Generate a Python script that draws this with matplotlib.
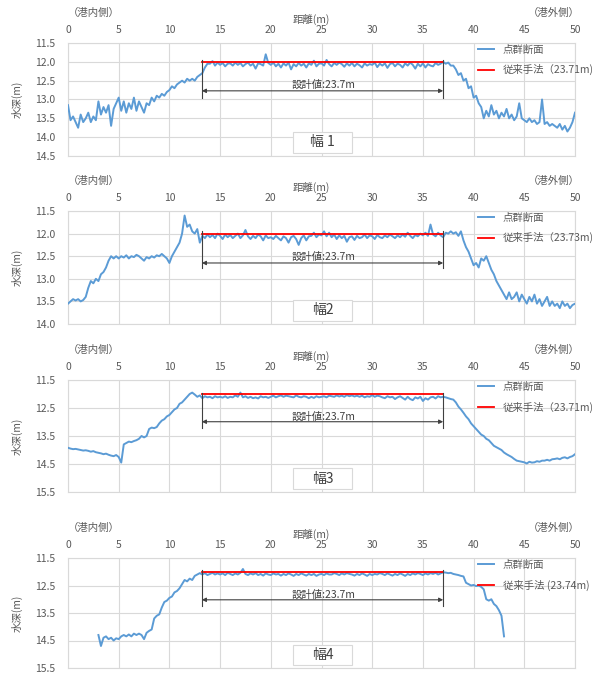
import numpy as np
import matplotlib
matplotlib.use("Agg")
import matplotlib.pyplot as plt
from matplotlib.patches import Rectangle

plt.rcParams['font.family'] = ['Noto Sans CJK JP', 'DejaVu Sans']

# 点群断面 (0.25m間隔で読み取り)
depth_1 = [
    13.15, 13.55, 13.45, 13.60, 13.75, 13.40, 13.60, 13.50,
    13.35, 13.60, 13.45, 13.55, 13.05, 13.40, 13.20, 13.35,
    13.15, 13.70, 13.25, 13.10, 12.95, 13.30, 13.05, 13.35,
    13.10, 13.25, 12.95, 13.30, 13.05, 13.20, 13.35, 13.10,
    13.15, 12.95, 13.05, 12.90, 12.95, 12.85, 12.90, 12.80,
    12.75, 12.65, 12.70, 12.60, 12.55, 12.50, 12.55, 12.45,
    12.50, 12.45, 12.50, 12.40, 12.35, 12.30, 12.15, 12.05,
    12.05, 11.98, 12.10, 12.02, 12.08, 12.03, 12.12, 12.05,
    12.04, 12.10, 12.02, 12.08, 12.03, 12.12, 12.06, 12.02,
    12.10, 12.05, 12.18, 12.04, 12.06, 12.10, 11.80, 12.03,
    12.08, 12.02, 12.12, 12.05, 12.15, 12.04, 12.10, 12.02,
    12.20, 12.06, 12.12, 12.03, 12.10, 12.05, 12.15, 12.04,
    12.08, 11.97, 12.12, 12.05, 12.04, 12.10, 11.95, 12.06,
    12.12, 12.03, 12.08, 12.02, 12.06, 12.13, 12.04, 12.10,
    12.03, 12.12, 12.05, 12.09, 12.15, 12.04, 12.10, 12.06,
    12.08, 12.02, 12.14, 12.05, 12.10, 12.04, 12.16, 12.06,
    12.03, 12.12, 12.05, 12.08, 12.15, 12.04, 12.10, 12.02,
    12.08, 12.18, 12.05, 12.12, 12.04, 12.15, 12.06, 12.10,
    12.12, 12.03, 12.08, 12.05, 12.00, 12.05, 12.02, 12.10,
    12.10, 12.20, 12.35, 12.30, 12.50, 12.45, 12.70, 12.65,
    12.95, 12.90, 13.10, 13.20, 13.50, 13.30, 13.45, 13.15,
    13.40, 13.30, 13.50, 13.35, 13.45, 13.25, 13.50, 13.40,
    13.55, 13.45, 13.10, 13.50, 13.55, 13.60, 13.50, 13.60,
    13.55, 13.65, 13.60, 13.00, 13.65, 13.60, 13.70, 13.65,
    13.70, 13.75, 13.65, 13.80, 13.70, 13.85, 13.75, 13.60,
    13.35,
]
depth_2 = [
    13.55, 13.50, 13.45, 13.48, 13.45, 13.50, 13.47, 13.40,
    13.20, 13.05, 13.10, 13.00, 13.05, 12.90, 12.85, 12.75,
    12.60, 12.50, 12.55, 12.50, 12.55, 12.50, 12.53, 12.48,
    12.55, 12.50, 12.52, 12.47, 12.50, 12.55, 12.60, 12.52,
    12.55, 12.50, 12.53, 12.48, 12.50, 12.45, 12.50, 12.55,
    12.65, 12.50, 12.40, 12.30, 12.20, 12.00, 11.60, 11.85,
    11.80, 11.95, 12.00, 11.90, 12.20, 12.05, 12.10, 12.02,
    12.08, 12.03, 12.10, 12.00, 12.05, 12.12, 12.02, 12.08,
    12.03, 12.10, 12.05, 12.00, 12.10, 12.04, 11.92, 12.06,
    12.12, 12.05, 12.10, 12.02, 12.06, 12.15, 12.04, 12.10,
    12.08, 12.12, 12.05, 12.10, 12.15, 12.06, 12.10, 12.20,
    12.08, 12.05, 12.12, 12.25, 12.10, 12.04, 12.15, 12.06,
    12.05, 11.98, 12.08, 12.02, 12.04, 11.95, 12.06, 11.98,
    12.08, 12.02, 12.12, 12.04, 12.10, 12.05, 12.18, 12.08,
    12.06, 12.14, 12.05, 12.10, 12.08, 12.02, 12.10, 12.04,
    12.06, 12.12, 12.03, 12.08, 12.10, 12.04, 12.08, 12.02,
    12.06, 12.10, 12.04, 12.08, 12.02, 12.07, 11.98, 12.05,
    12.10, 12.03, 12.06, 12.00, 12.04, 11.98, 12.05, 11.80,
    12.02, 12.06, 11.98, 12.04, 12.08, 11.98, 12.00, 11.95,
    12.00, 11.97, 12.05, 11.95, 12.15, 12.30, 12.40, 12.55,
    12.70, 12.65, 12.75, 12.55, 12.60, 12.50, 12.65, 12.80,
    12.90, 13.05, 13.15, 13.25, 13.35, 13.45, 13.30, 13.45,
    13.40, 13.30, 13.50, 13.35, 13.45, 13.55, 13.40, 13.50,
    13.35, 13.55, 13.45, 13.60, 13.50, 13.40, 13.60, 13.50,
    13.60, 13.55, 13.65, 13.50, 13.60, 13.55, 13.65, 13.58,
    13.55,
]
depth_3 = [
    13.92, 13.95, 13.97, 13.96, 13.98, 14.00, 14.02, 14.01,
    14.03, 14.06, 14.04, 14.08, 14.10, 14.12, 14.15, 14.13,
    14.17, 14.20, 14.22, 14.18, 14.25, 14.45, 13.80, 13.75,
    13.70, 13.72, 13.68, 13.65, 13.60, 13.50, 13.55, 13.50,
    13.25, 13.20, 13.22, 13.18, 13.05, 12.95, 12.90, 12.80,
    12.75, 12.65, 12.55, 12.50, 12.35, 12.30, 12.20, 12.10,
    12.00, 11.95, 12.02, 12.10, 12.05, 12.15, 12.08, 12.12,
    12.10, 12.15, 12.08, 12.12, 12.10, 12.13, 12.08, 12.14,
    12.10, 12.12, 12.05, 12.10, 11.95, 12.12, 12.08, 12.14,
    12.10, 12.15, 12.12, 12.16, 12.08, 12.12, 12.10, 12.14,
    12.10, 12.06, 12.12, 12.08, 12.05, 12.10, 12.06, 12.08,
    12.10, 12.12, 12.05, 12.10, 12.12, 12.08, 12.10, 12.15,
    12.10, 12.14, 12.08, 12.12, 12.10, 12.08, 12.12, 12.06,
    12.08, 12.10, 12.05, 12.09, 12.06, 12.10, 12.04, 12.08,
    12.05, 12.09, 12.06, 12.10, 12.06, 12.12, 12.08, 12.10,
    12.04, 12.10, 12.06, 12.08, 12.12, 12.15, 12.08, 12.12,
    12.10, 12.18, 12.12, 12.08, 12.14, 12.20, 12.10, 12.18,
    12.22, 12.12, 12.16, 12.10, 12.25, 12.15, 12.20, 12.12,
    12.10, 12.16, 12.08, 12.12, 12.10, 12.12, 12.15, 12.18,
    12.20, 12.30, 12.45, 12.55, 12.67, 12.80, 12.90, 13.05,
    13.15, 13.25, 13.35, 13.45, 13.50, 13.60, 13.65, 13.75,
    13.85, 13.90, 13.95, 14.00, 14.09, 14.15, 14.20, 14.25,
    14.32, 14.38, 14.40, 14.42, 14.44, 14.48, 14.42, 14.45,
    14.44, 14.40, 14.42, 14.38, 14.38, 14.35, 14.38, 14.33,
    14.32, 14.30, 14.33, 14.28, 14.26, 14.30, 14.25, 14.22,
    14.15,
]
depth_4 = [
    14.30, 14.70, 14.40, 14.35, 14.45, 14.40, 14.50, 14.42,
    14.45, 14.35, 14.30, 14.35, 14.28, 14.35, 14.25, 14.30,
    14.25, 14.30, 14.45, 14.22, 14.15, 14.10, 13.70, 13.60,
    13.55, 13.30, 13.10, 13.05, 12.95, 12.90, 12.75, 12.70,
    12.60, 12.45, 12.30, 12.35, 12.25, 12.30, 12.15, 12.10,
    12.05, 12.10, 12.05, 12.12, 12.08, 12.04, 12.10, 12.06,
    12.10, 12.06, 12.12, 12.04, 12.08, 12.12, 12.06, 12.10,
    12.04, 11.90, 12.08, 12.12, 12.06, 12.10, 12.05, 12.12,
    12.08, 12.14, 12.06, 12.10, 12.12, 12.06, 12.10, 12.08,
    12.14, 12.08, 12.12, 12.06, 12.10, 12.15, 12.08, 12.12,
    12.06, 12.10, 12.14, 12.08, 12.12, 12.08, 12.15, 12.10,
    12.08, 12.12, 12.06, 12.10, 12.10, 12.05, 12.08, 12.12,
    12.06, 12.10, 12.05, 12.08, 12.10, 12.14, 12.08, 12.12,
    12.06, 12.10, 12.15, 12.08, 12.12, 12.08, 12.10, 12.05,
    12.08, 12.12, 12.06, 12.10, 12.14, 12.08, 12.12, 12.06,
    12.10, 12.15, 12.08, 12.12, 12.06, 12.10, 12.05, 12.08,
    12.12, 12.06, 12.10, 12.05, 12.08, 12.04, 12.10, 12.06,
    12.02, 12.03, 12.05, 12.04, 12.08, 12.10, 12.12, 12.15,
    12.17, 12.40, 12.45, 12.50, 12.48, 12.52, 12.50, 12.55,
    12.64, 13.00, 13.05, 13.00, 13.17, 13.25, 13.40, 13.60,
    14.35,
]
x_start = [0, 0, 0, 3]
profiles = [depth_1, depth_2, depth_3, depth_4]

# 従来手法の値と設計値
conv_labels = ["従来手法（23.71m)", "従来手法（23.73m)", "従来手法（23.71m)", "従来手法 (23.74m)"]
panel_names = ["幅 1", "幅2", "幅3", "幅4"]
design_x0, design_x1 = 13.2, 37.0
design_depth = 12.0

y_ranges = [(11.5, 14.5, 0.5), (11.5, 14.0, 0.5), (11.5, 15.5, 1.0), (11.5, 15.5, 1.0)]
# 寸法線の位置 (縦線の下端, 矢印, 文字)
dim_pos = [(12.96, 12.77, 12.62), (12.77, 12.65, 12.52), (13.2, 12.99, 12.83), (13.26, 13.02, 12.85)]

BLUE = "#5B9BD5"
GRAY = "#595959"
GRID = "#D9D9D9"

fig = plt.figure(figsize=(5.96, 6.75), dpi=100)
# 各パネルの (上端, 下端) ピクセル
panel_px = [(43, 156), (211, 324), (380, 492), (558, 668)]

for i in range(4):
    top, bot = panel_px[i]
    ax = fig.add_axes([68 / 596, 1 - bot / 675, 507 / 596, (bot - top) / 675])
    y = np.array(profiles[i])
    x = x_start[i] + 0.25 * np.arange(len(y))
    ax.plot(x, y, color=BLUE, lw=1.4, label="点群断面", zorder=3)
    ax.plot([design_x0, design_x1], [design_depth, design_depth], color="#FF0000",
            lw=1.3, label=conv_labels[i], zorder=4)

    y0, y1, st = y_ranges[i]
    ax.set_xlim(0, 50)
    ax.set_ylim(y1, y0)
    ax.set_xticks(np.arange(0, 51, 5))
    ax.set_yticks(np.arange(y0, y1 + 0.01, st))
    ax.yaxis.set_major_formatter(matplotlib.ticker.FormatStrFormatter("%.1f"))
    ax.xaxis.tick_top()
    ax.tick_params(axis="x", length=0, pad=6, labelsize=7.5, labelcolor=GRAY)
    ax.tick_params(axis="y", length=0, pad=9, labelsize=7.5, labelcolor=GRAY)
    ax.grid(True, color=GRID, lw=0.8, zorder=0)
    for s in ax.spines.values():
        s.set_color(GRID)
        s.set_linewidth(0.8)

    # 設計値の寸法線
    vb, ya, yt = dim_pos[i]
    for xv in (design_x0, design_x1):
        ax.plot([xv, xv], [11.95, vb], color="#404040", lw=0.8, zorder=5)
    ax.annotate("", xy=(design_x0, ya), xytext=(design_x1, ya),
                arrowprops=dict(arrowstyle="<|-|>", color="#404040", lw=0.8,
                                mutation_scale=6, shrinkA=0, shrinkB=0), zorder=5)
    ax.text(25.2, yt, "設計値:23.7m", ha="center", va="center", fontsize=7.5, color="#404040")

    # 幅ラベル
    ax.add_patch(Rectangle((0.444, 0.03), 0.116, 0.18, transform=ax.transAxes,
                           facecolor="white", edgecolor=GRID, lw=0.8, zorder=6))
    ax.text(0.502, 0.12, panel_names[i], transform=ax.transAxes, ha="center", va="center",
            fontsize=10, color="#404040", zorder=7)

    ax.text(0.0, 1.27, "（港内側）", transform=ax.transAxes, ha="left", va="center",
            fontsize=7.5, color=GRAY)
    ax.text(0.48, 1.21, "距離(m)", transform=ax.transAxes, ha="center", va="center",
            fontsize=7.5, color=GRAY)
    ax.text(1.01, 1.27, "（港外側）", transform=ax.transAxes, ha="right", va="center",
            fontsize=7.5, color=GRAY)
    ax.set_ylabel("水深(m)", fontsize=7.5, color=GRAY)
    ax.yaxis.set_label_coords(-0.09, 0.5)

    ax.legend(loc="upper left", bbox_to_anchor=(0.8, 1.02), frameon=False, fontsize=7.5,
              handlelength=1.6, labelspacing=0.9, borderaxespad=0, labelcolor=GRAY)

fig.savefig("out.png", dpi=100)
